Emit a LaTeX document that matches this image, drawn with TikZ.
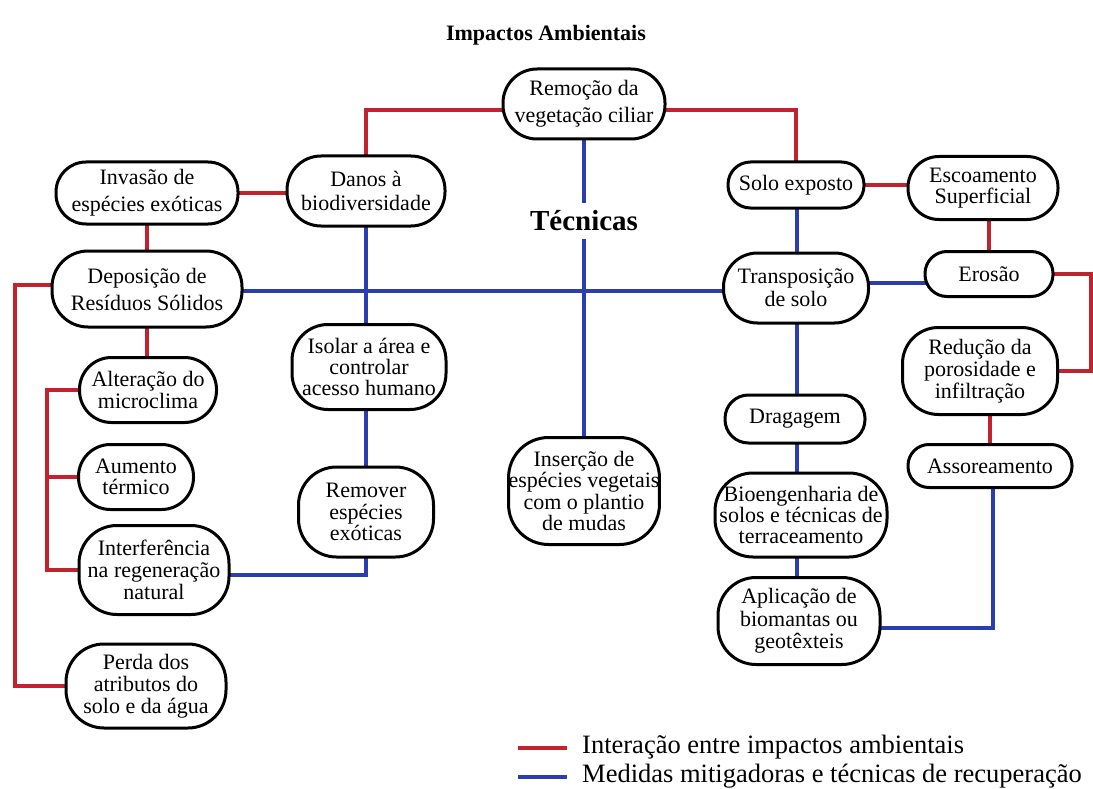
\documentclass[tikz,border=0pt]{standalone}
\usepackage{fontspec}
\setmainfont{LiberationSerif}[Extension=.ttf, UprightFont=*-Regular, BoldFont=*-Bold, ItalicFont=*-Italic, BoldItalicFont=*-BoldItalic]
\usetikzlibrary{calc}
\pgfdeclarelayer{background}
\pgfsetlayers{background,main}
\definecolor{imred}{RGB}{192,35,45}
\definecolor{mitblue}{RGB}{42,62,178}
\tikzset{
  box/.style={draw=black, line width=3pt, fill=white, align=center, inner sep=0pt,
    font=\rmfamily\fontsize{22}{22}\selectfont},
  sz/.style n args={3}{minimum width=#1pt, minimum height=#2pt, rounded corners=#3pt},
  bs/.style={font=\rmfamily\fontsize{22}{#1}\selectfont},
  imp/.style={draw=imred, line width=3.5pt},
  mit/.style={draw=mitblue, line width=3.5pt},
  legtext/.style={anchor=west, inner sep=0pt, font=\rmfamily\fontsize{26.5}{26.5}\selectfont},
}
\begin{document}
\begin{tikzpicture}[x=1pt,y=-1pt]
\useasboundingbox (0,0) rectangle (1093,789);
% title and label
\node[font=\rmfamily\bfseries\fontsize{22}{22}\selectfont] (title) at (546,35) {Impactos Ambientais};
\node[font=\rmfamily\bfseries\fontsize{29}{29}\selectfont, inner xsep=4pt, inner ysep=8pt] (tec) at (584,221) {Técnicas};
% nodes
\node[box,sz={162}{70}{34},bs=27] (rem) at (584,104) {Remoção da\\vegetação ciliar};
\node[box,sz={158}{70}{34},bs=24] (danos) at (366,191) {Danos à\\biodiversidade};
\node[box,sz={182}{62}{30},bs=27] (inv) at (147,193) {Invasão de\\espécies exóticas};
\node[box,sz={136}{46}{22.5}] (solo) at (796,185) {Solo exposto};
\node[box,sz={150}{63}{31},bs=21] (esc) at (983,188) {Escoamento\\Superficial};
\node[box,sz={190}{76}{36},bs=27] (dep) at (147,289) {Deposição de\\Resíduos Sólidos};
\node[box,sz={145}{70}{34},bs=23] (trans) at (796,288) {Transposição\\de solo};
\node[box,sz={128}{45}{22}] (ero) at (989,274) {Erosão};
\node[box,sz={154}{85}{36},bs=21] (iso) at (369,367) {Isolar a área e\\controlar\\acesso humano};
\node[box,sz={137}{65}{32},bs=22] (alt) at (148,390) {Alteração do\\microclima};
\node[box,sz={155}{87}{36},bs=22] (red) at (980,371) {Redução da\\porosidade e\\infiltração};
\node[box,sz={140}{48}{23.5}] (drag) at (795,419) {Dragagem};
\node[box,sz={115}{65}{32},bs=21] (aum) at (136,477) {Aumento\\térmico};
\node[box,sz={164}{43}{21}] (ass) at (990,466) {Assoreamento};
\node[box,sz={135}{90}{38},bs=21.5] (rmv) at (366,512) {Remover\\espécies\\exóticas};
\node[box,sz={150}{107}{40},bs=21.5] (ins) at (584,491) {Inserção de\\espécies vegetais\\com o plantio\\de mudas};
\node[box,sz={172}{84}{38},bs=21] (bio) at (801,515) {Bioengenharia de\\solos e técnicas de\\terraceamento};
\node[box,sz={150}{89}{38},bs=22] (intf) at (154,570) {Interferência\\na regeneração\\natural};
\node[box,sz={162}{87}{38},bs=22.5] (apl) at (799,621) {Aplicação de\\biomantas ou\\geotêxteis};
\node[box,sz={160}{84}{38},bs=22] (perda) at (146,686) {Perda dos\\atributos do\\solo e da água};
% helper coordinates
\coordinate (L1) at (15,0);
\coordinate (L2) at (47,0);
\coordinate (R1) at (1091,0);
\coordinate (X1) at (797,0);
\coordinate (X2) at (993,0);
\coordinate (Y1) at (0,291);
\coordinate (Y2) at (0,283);
\coordinate (Y3) at (0,575);
\coordinate (Y4) at (0,628);
\begin{pgfonlayer}{background}
\fill[white] (0,0) rectangle (1093,789);
% red: interactions
\draw[imp] ([yshift=-6pt]rem.center) -| (danos.center);
\draw[imp] ([yshift=-6pt]rem.center) -| (solo.center);
\draw[imp] (inv.center) -- (inv.center -| danos.center);
\draw[imp] (inv.center) -- (inv.center |- dep.center);
\draw[imp] (dep.center) -- (dep.center |- alt.center);
\draw[imp] ([yshift=4pt]dep.center) -| (L1 |- perda.center) -- (perda.center);
\draw[imp] (alt.center) -| (L2 |- intf.center) -- (intf.center);
\draw[imp] (aum.center) -- (L2 |- aum.center);
\draw[imp] (solo.center) -- (solo.center -| esc.center);
\draw[imp] (ero.center) -- (ero.center |- esc.center);
\draw[imp] (ero.center) -| (R1 |- red.center) -- (red.center);
\draw[imp] (ass.center) -- (ass.center |- red.center);
% blue: mitigation
\draw[mit] (rem.center) -- (tec.north);
\draw[mit] (tec.south) -- (ins.center);
\draw[mit] (danos.center) -- (danos.center |- iso.center);
\draw[mit] (dep.center |- Y1) -- (trans.center |- Y1);
\draw[mit] (trans.center |- Y2) -- (ero.center |- Y2);
\draw[mit] (X1 |- solo.center) -- (X1 |- trans.center);
\draw[mit] (rmv.center) -- (rmv.center |- iso.center);
\draw[mit] (rmv.center) |- (intf.center |- Y3);
\draw[mit] (X1 |- trans.center) -- (X1 |- drag.center);
\draw[mit] (X1 |- drag.center) -- (X1 |- bio.center);
\draw[mit] (X1 |- bio.center) -- (X1 |- apl.center);
\draw[mit] (apl.center |- Y4) -| (X2 |- ass.center);
\end{pgfonlayer}
% legend
\coordinate (k1a) at (518,748); \coordinate (k1b) at (567,748);
\coordinate (k2a) at (518,777); \coordinate (k2b) at (567,777);
\draw[imp] (k1a) -- (k1b);
\draw[mit] (k2a) -- (k2b);
\node[legtext] (lg1) at (582,747) {Interação entre impactos ambientais};
\node[legtext] (lg2) at (582,776) {Medidas mitigadoras e técnicas de recuperação};
\end{tikzpicture}
\end{document}
